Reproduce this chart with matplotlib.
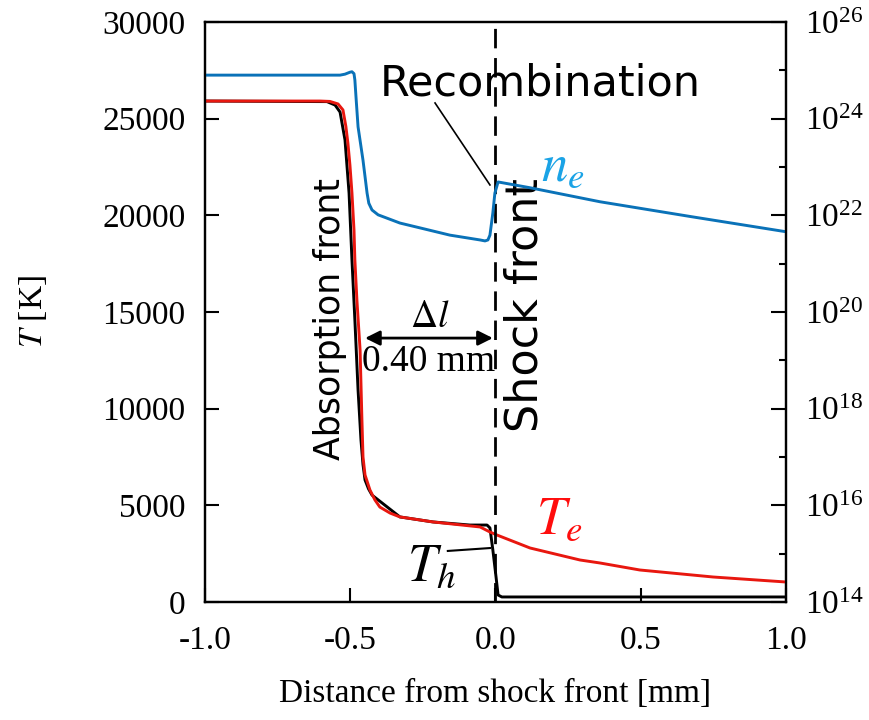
import numpy as np
import matplotlib
matplotlib.use("Agg")
import matplotlib.pyplot as plt
from matplotlib.ticker import NullFormatter

plt.rcParams['font.family'] = ['Liberation Serif', 'DejaVu Serif']
plt.rcParams['mathtext.fontset'] = 'stix'
plt.rcParams['axes.unicode_minus'] = False

# electron temperature T_e [K]
te_x = [-1.0, -0.604, -0.570, -0.542, -0.525, -0.515, -0.508, -0.501, -0.494, -0.487,
        -0.484, -0.477, -0.466, -0.460, -0.456, -0.449, -0.432, -0.415, -0.398, -0.363,
        -0.329, -0.215, -0.053, -0.019, 0.005, 0.119, 0.291, 0.360, 0.497, 0.749, 1.0]
te_y = [25910, 25910, 25890, 25760, 25450, 24600, 23740, 22600, 21150, 19240,
        17690, 15620, 13030, 9570, 7500, 6570, 5790, 5280, 4910, 4600,
        4400, 4140, 3880, 3620, 3465, 2793, 2172, 2017, 1655, 1293, 1034]

# heavy particle temperature T_h [K]
th_x = [-1.0, -0.580, -0.552, -0.535, -0.518, -0.504, -0.494, -0.484, -0.473, -0.463,
        -0.456, -0.449, -0.437, -0.425, -0.329, -0.215, -0.088, -0.029, -0.019, -0.009,
        0.002, 0.009, 0.022, 1.0]
th_y = [25910, 25880, 25700, 25340, 23900, 21150, 17690, 14590, 10960, 8380,
        7100, 6310, 5850, 5530, 4400, 4140, 3980, 3980, 3830, 2690,
        1290, 362, 260, 260]

# electron number density n_e, log10 [m^-3]
ne_x = [-1.0, -0.535, -0.518, -0.501, -0.494, -0.487, -0.484, -0.479, -0.473, -0.456,
        -0.442, -0.436, -0.425, -0.404, -0.373, -0.329, -0.260, -0.157, -0.053, -0.036,
        -0.026, -0.019, -0.009, -0.002, 0.009, 0.119, 0.360, 0.676, 1.0]
ne_log = [24.90, 24.90, 24.92, 24.96, 24.97, 24.93, 24.80, 24.35, 23.83, 23.14,
          22.46, 22.25, 22.11, 22.01, 21.94, 21.84, 21.74, 21.59, 21.49, 21.47,
          21.49, 21.59, 22.05, 22.46, 22.69, 22.57, 22.28, 21.97, 21.66]

fig = plt.figure(figsize=(8.7, 7.2), dpi=100)
ax = fig.add_axes([0.2356, 0.1639, 0.6678, 0.8056])
ax2 = ax.twinx()

ax.plot(th_x, th_y, color='black', lw=2.1, zorder=2)
ax.plot(te_x, te_y, color='#e8170f', lw=2.1, zorder=3)
ax2.plot(ne_x, 10.0 ** np.array(ne_log), color='#0a72b8', lw=2.1)
ax.axvline(0.0, color='black', lw=2.0, ls=(0, (7, 3.5)), zorder=4)

ax.set_xlim(-1, 1)
ax.set_ylim(0, 30000)
ax.set_xticks([-1.0, -0.5, 0.0, 0.5, 1.0])
ax.set_yticks(range(0, 30001, 5000))
ax2.set_yscale('log')
ax2.set_ylim(1e14, 1e26)
ax2.set_yticks([10.0 ** k for k in range(14, 27, 2)])
ax2.set_yticks([10.0 ** k for k in range(15, 26, 2)], minor=True)
ax2.yaxis.set_minor_formatter(NullFormatter())

for a in (ax, ax2):
    for s in a.spines.values():
        s.set_linewidth(1.6)
ax.tick_params(axis='both', which='major', direction='in', length=10, width=1.5,
               labelsize=24)
ax.tick_params(axis='x', pad=17)
ax.tick_params(axis='y', pad=14)
ax2.tick_params(axis='y', which='major', direction='in', length=11, width=1.5,
                labelsize=24, pad=14)
ax2.tick_params(axis='y', which='minor', direction='in', length=5, width=1.5)

ax.set_xlabel('Distance from shock front [mm]', fontsize=24, labelpad=16)
ax.set_ylabel(r'$T$ [K]', fontsize=24, labelpad=38)

# annotations
ax.text(0.153, 26220, 'Recombination', family='DejaVu Sans', fontsize=31,
        ha='center', va='baseline')
ax.plot([-0.208, -0.019], [25810, 21570], color='black', lw=1.2)
ax.text(0.158, 22450, r'$n_e$', color='#1aa3e6', fontsize=38, ha='left', va='center')
ax.text(0.138, 4200, r'$T_e$', color='#ff0d0d', fontsize=38, ha='left', va='center')
ax.text(-0.305, 1750, r'$T_h$', color='black', fontsize=38, ha='left', va='center')
ax.plot([-0.164, -0.019], [2640, 2790], color='black', lw=1.5)
ax.text(-0.570, 14640, 'Absorption front', family='DejaVu Sans', fontsize=25,
        rotation=90, ha='center', va='center')
ax.text(0.100, 15360, 'Shock front', family='DejaVu Sans', fontsize=32,
        rotation=90, ha='center', va='center')
ax.annotate('', xy=(-0.449, 13650), xytext=(-0.009, 13650),
            arrowprops=dict(arrowstyle='<|-|>', color='black', lw=2.0,
                            mutation_scale=22, shrinkA=0, shrinkB=0))
ax.text(-0.225, 14690, r'$\Delta l$', fontsize=27, ha='center', va='center')
ax.text(-0.229, 12440, '0.40 mm', fontsize=27, ha='center', va='center')

fig.savefig('out.png', dpi=100)
